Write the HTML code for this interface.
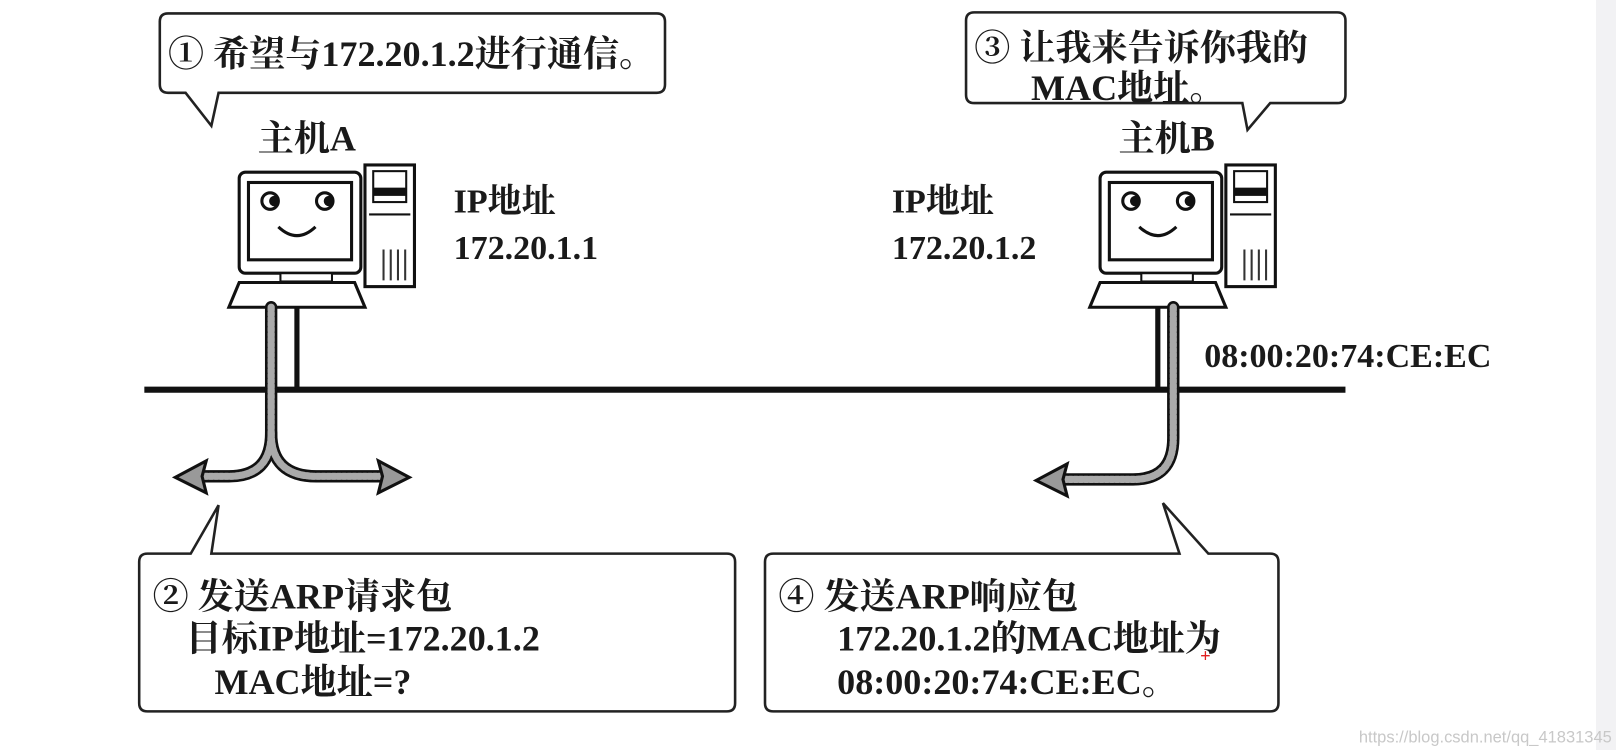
<!DOCTYPE html>
<html><head><meta charset="utf-8"><style>
html,body{margin:0;padding:0;background:#fff;}
body{width:1616px;height:750px;overflow:hidden;position:relative;}
svg text{font-family:"Liberation Serif","Noto Serif CJK SC",serif;font-weight:bold;fill:#1a1a1a;}
</style></head><body>
<svg width="1616" height="750" viewBox="0 0 1616 750" xmlns="http://www.w3.org/2000/svg">
<rect x="1596" y="0" width="20" height="750" fill="#f2f2f4"/>
<defs>
<g id="pc">
 <rect x="10" y="45" width="118" height="98" rx="6" fill="#fff" stroke="#111" stroke-width="3"/>
 <rect x="19" y="55" width="100" height="75" fill="#fff" stroke="#111" stroke-width="3"/>
 <circle cx="40" cy="73" r="8" fill="#fff" stroke="#111" stroke-width="3"/><circle cx="44" cy="73" r="5" fill="#111"/>
 <circle cx="93" cy="73" r="8" fill="#fff" stroke="#111" stroke-width="3"/><circle cx="97" cy="73" r="5" fill="#111"/>
 <path d="M48 98 Q66 115 84 98" fill="none" stroke="#111" stroke-width="3"/>
 <rect x="50" y="143" width="50" height="8" fill="#fff" stroke="#111" stroke-width="2"/>
 <rect x="132" y="38" width="48" height="118" fill="#fff" stroke="#111" stroke-width="3"/>
 <rect x="140" y="44" width="32" height="30" fill="#fff" stroke="#111" stroke-width="2"/>
 <rect x="140" y="60" width="32" height="8" fill="#111"/>
 <line x1="136" y1="86" x2="176" y2="86" stroke="#111" stroke-width="2"/>
 <path d="M150 120v30M157 120v30M164 120v30M171 120v30" stroke="#333" stroke-width="2"/>
 <path d="M10 152 L0 176 L132 176 L122 152 Z" fill="#fff" stroke="#111" stroke-width="3"/>
</g>
</defs>
<g transform="scale(1.031)">
<path d="M163 13 H637 Q645 13 645 21 V82 Q645 90 637 90 H212 L205 122 L180 90 H163 Q155 90 155 82 V21 Q155 13 163 13 Z" fill="#fff" stroke="#222" stroke-width="2.5"/>
<text x="163" y="64" font-size="35">① 希望与172.20.1.2进行通信。</text>
<path d="M945 12 H1297 Q1305 12 1305 20 V92 Q1305 100 1297 100 H1232 L1210 126 L1205 100 H945 Q937 100 937 92 V20 Q937 12 945 12 Z" fill="#fff" stroke="#222" stroke-width="2.5"/>
<text x="945" y="58" font-size="35">③ 让我来告诉你我的</text>
<text x="1000" y="97" font-size="35">MAC地址。</text>
<text x="250" y="146" font-size="35">主机A</text>
<text x="1085" y="146" font-size="35">主机B</text>
<use href="#pc" x="222" y="122"/>
<use href="#pc" x="1057" y="122"/>
<text x="440" y="206" font-size="33">IP地址</text>
<text x="440" y="251" font-size="33" font-weight="normal">172.20.1.1</text>
<text x="865" y="206" font-size="33">IP地址</text>
<text x="865" y="251" font-size="33" font-weight="normal">172.20.1.2</text>
<text x="1168" y="356" font-size="33">08:00:20:74:CE:EC</text>
<line x1="140" y1="378" x2="1305" y2="378" stroke="#111" stroke-width="6"/>
<line x1="288" y1="298" x2="288" y2="378" stroke="#111" stroke-width="5"/>
<line x1="1123" y1="298" x2="1123" y2="378" stroke="#111" stroke-width="5"/>
<g fill="none" stroke-linecap="round">
<path d="M263 298 V420 Q263 462 222 462 H190" stroke="#111" stroke-width="12"/>
<path d="M263 420 Q263 462 307 462 H375" stroke="#111" stroke-width="12"/>
<path d="M1138 298 V425 Q1138 465 1099 465 H1030" stroke="#111" stroke-width="12"/>
<path d="M263 298 V420 Q263 462 222 462 H190" stroke="#aaa" stroke-width="7" stroke-dasharray="3 2"/>
<path d="M263 420 Q263 462 307 462 H375" stroke="#aaa" stroke-width="7" stroke-dasharray="3 2"/>
<path d="M1138 298 V425 Q1138 465 1099 465 H1030" stroke="#aaa" stroke-width="7" stroke-dasharray="3 2"/>
</g>
<path d="M170 463 L200 447 L196 462 L200 478 Z" fill="#999" stroke="#111" stroke-width="3"/>
<path d="M397 463 L367 447 L371 462 L367 478 Z" fill="#999" stroke="#111" stroke-width="3"/>
<path d="M1005 466 L1035 450 L1031 465 L1035 481 Z" fill="#999" stroke="#111" stroke-width="3"/>
<path d="M143 537 H185 L212 490 L205 537 H705 Q713 537 713 545 V682 Q713 690 705 690 H143 Q135 690 135 682 V545 Q135 537 143 537 Z" fill="#fff" stroke="#222" stroke-width="2.5"/>
<text x="148" y="590" font-size="35">② 发送ARP请求包</text>
<text x="180" y="631" font-size="35">目标IP地址=172.20.1.2</text>
<text x="208" y="673" font-size="35">MAC地址=?</text>
<path d="M750 537 H1144 L1128 488 L1172 537 H1232 Q1240 537 1240 545 V682 Q1240 690 1232 690 H750 Q742 690 742 682 V545 Q742 537 750 537 Z" fill="#fff" stroke="#222" stroke-width="2.5"/>
<text x="755" y="590" font-size="35">④ 发送ARP响应包</text>
<text x="812" y="631" font-size="35">172.20.1.2的MAC地址为</text>
<text x="812" y="673" font-size="35">08:00:20:74:CE:EC。</text>
<text x="1164" y="642" font-size="18" style="fill:#e02020">+</text>
<text x="1318" y="720" font-size="16" style="fill:#c8c8c8;font-family:'Liberation Sans',sans-serif;font-weight:normal">https://blog.csdn.net/qq_41831345</text>
</g>
</svg>
</body></html>
